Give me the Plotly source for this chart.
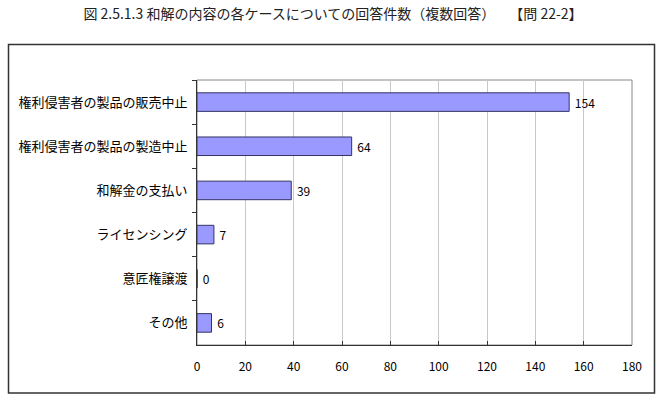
import plotly.graph_objects as go

categories = ["権利侵害者の製品の販売中止", "権利侵害者の製品の製造中止", "和解金の支払い",
              "ライセンシング", "意匠権譲渡", "その他"]
values = [154, 64, 39, 7, 0, 6]
x_ticks = [0, 20, 40, 60, 80, 100, 120, 140, 160, 180]
title = "図 2.5.1.3 和解の内容の各ケースについての回答件数（複数回答）　　【問 22-2】"

W, H = 666, 395
L, R, T, B = 197, 34, 80, 50
pw, ph = W - L - R, H - T - B

fig = go.Figure(go.Bar(
    x=values, y=categories, orientation="h",
    marker=dict(color="#9999FF", line=dict(color="#333366", width=1)),
    width=0.42,
    text=[" " + str(v) for v in values], textposition="outside",
    textfont=dict(size=12, color="#000000", family="Noto Sans CJK JP"),
    cliponaxis=False,
))

def px(x):
    return (x - L) / pw

def py(y):
    return (H - B - y) / ph

fig.update_layout(
    width=W, height=H,
    margin=dict(l=L, r=R, t=T, b=B),
    paper_bgcolor="white", plot_bgcolor="white",
    font=dict(family="Noto Sans CJK JP", color="#000000"),
    showlegend=False,
    title=dict(text=title, x=0.5, xanchor="center", y=1 - 14 / H, yanchor="middle",
               font=dict(size=14, family="Noto Sans CJK JP", color="#222222")),
    xaxis=dict(range=[0, 180], tickvals=x_ticks, showgrid=True, gridcolor="#C8C8C8",
               gridwidth=1, zeroline=False, showline=True, linecolor="#333333",
               linewidth=1, ticks="inside", ticklen=4, tickcolor="#333333",
               tickfont=dict(size=12), ticklabelstandoff=11, fixedrange=True),
    yaxis=dict(autorange="reversed", showline=True, linecolor="#333333", linewidth=1,
               ticks="outside", tickson="boundaries", ticklen=4, tickcolor="#333333",
               tickfont=dict(size=13), showgrid=False, ticklabelstandoff=6),
    shapes=[
        dict(type="rect", xref="paper", yref="paper", x0=0, x1=1, y0=0, y1=1,
             line=dict(color="#888888", width=1), layer="below"),
        dict(type="rect", xref="paper", yref="paper",
             x0=px(8.5), x1=px(654.5), y0=py(393), y1=py(44.5),
             line=dict(color="#333333", width=1.5)),
    ],
)

fig.write_html("out.html")
